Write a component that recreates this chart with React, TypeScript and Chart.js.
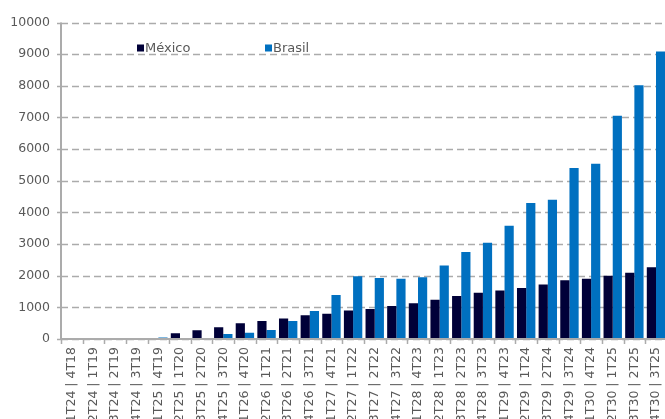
import React, { useEffect, useRef } from "react";
import { Chart, registerables } from "chart.js";

Chart.register(...registerables);

// Quarter pairs: México quarter | Brasil quarter
const categories = [
  "1T24 | 4T18", "2T24 | 1T19", "3T24 | 2T19", "4T24 | 3T19",
  "1T25 | 4T19", "2T25 | 1T20", "3T25 | 2T20", "4T25 | 3T20",
  "1T26 | 4T20", "2T26 | 1T21", "3T26 | 2T21", "4T26 | 3T21",
  "1T27 | 4T21", "2T27 | 1T22", "3T27 | 2T22", "4T27 | 3T22",
  "1T28 | 4T23", "2T28 | 1T23", "3T28 | 2T23", "4T28 | 3T23",
  "1T29 | 4T23", "2T29 | 1T24", "3T29 | 2T24", "4T29 | 3T24",
  "1T30 | 4T24", "2T30 | 1T25", "3T30 | 2T25", "4T30 | 3T25",
];

const mexico = [
  0, 0, 0, 0, 0, 180, 280, 370, 495, 570, 650, 750, 800, 900,
  950, 1040, 1130, 1240, 1360, 1460, 1530, 1610, 1720, 1860, 1900, 2000, 2090, 2270,
];

const brasil = [
  0, 0, 0, 0, 50, 0, 0, 160, 200, 285, 570, 885, 1390, 1980,
  1930, 1900, 1950, 2320, 2750, 3040, 3580, 4300, 4400, 5400, 5540, 7050, 8020, 9080,
];

const yMin = 0;
const yMax = 10000;
const yStep = 1000;

const seriesNames = ["México", "Brasil"];
const seriesColors = ["#000038", "#0070C0"];

const FONT = "'DejaVu Sans', sans-serif";
const TEXT = "#595959";
const GRID = "#ababab";

// Dashed value gridlines, axis lines and tick marks, placed from the chart's own scales
const gridLines = {
  id: "gridLines",
  beforeDatasetsDraw(chart: any) {
    const { ctx, chartArea: a, scales } = chart;
    const x = scales.x;
    const y = scales.y;
    ctx.save();
    ctx.strokeStyle = GRID;
    y.ticks.forEach((t: any) => {
      const py = Math.round(y.getPixelForValue(t.value)) + 0.5;
      ctx.lineWidth = 1.6;
      ctx.setLineDash([7, 4]);
      ctx.beginPath();
      ctx.moveTo(a.left, py);
      ctx.lineTo(a.right, py);
      ctx.stroke();
      ctx.setLineDash([]);
      ctx.lineWidth = 1.5;
      ctx.beginPath();
      ctx.moveTo(a.left - 4, py);
      ctx.lineTo(a.left, py);
      ctx.stroke();
    });
    ctx.lineWidth = 1.5;
    for (let i = 0; i <= categories.length; i++) {
      const px = Math.round(x.getPixelForValue(i - 0.5)) + 0.5;
      ctx.beginPath();
      ctx.moveTo(px, a.bottom);
      ctx.lineTo(px, a.bottom + 5);
      ctx.stroke();
    }
    ctx.restore();
  },
  afterDatasetsDraw(chart: any) {
    const { ctx, chartArea: a } = chart;
    ctx.save();
    ctx.strokeStyle = GRID;
    ctx.lineWidth = 2;
    ctx.beginPath();
    ctx.moveTo(a.left, a.top);
    ctx.lineTo(a.left, a.bottom);
    ctx.lineTo(a.right, a.bottom);
    ctx.stroke();
    ctx.restore();
  },
};

// Legend drawn inside the plot area, left of centre near the top
const insideLegend = {
  id: "insideLegend",
  afterDraw(chart: any) {
    const { ctx, chartArea } = chart;
    const y = chartArea.top + 26;
    const starts = [chartArea.left + 76, chartArea.left + 204];
    ctx.save();
    ctx.font = `13px ${FONT}`;
    ctx.textBaseline = "middle";
    ctx.textAlign = "left";
    seriesNames.forEach((name, i) => {
      const x = starts[i];
      ctx.fillStyle = seriesColors[i];
      ctx.fillRect(x, y - 4, 7, 7);
      ctx.fillStyle = TEXT;
      ctx.fillText(name, x + 8, y);
    });
    ctx.restore();
  },
};

export default function App() {
  const canvasRef = useRef<HTMLCanvasElement | null>(null);

  useEffect(() => {
    if (!canvasRef.current) return;
    const chart = new Chart(canvasRef.current, {
      type: "bar",
      data: {
        labels: categories,
        datasets: [
          {
            label: seriesNames[0],
            data: mexico,
            backgroundColor: seriesColors[0],
            categoryPercentage: 0.85,
            barPercentage: 1,
          },
          {
            label: seriesNames[1],
            data: brasil,
            backgroundColor: seriesColors[1],
            categoryPercentage: 0.85,
            barPercentage: 1,
          },
        ],
      },
      options: {
        responsive: false,
        animation: false,
        layout: { padding: { top: 13 } },
        plugins: {
          legend: { display: false },
          tooltip: { enabled: false },
        },
        scales: {
          x: {
            grid: {
              display: false,
              drawTicks: true,
              offset: true,
              tickLength: 5,
            },
            border: { display: false },
            ticks: {
              autoSkip: false,
              maxRotation: 90,
              minRotation: 90,
              padding: 3,
              color: TEXT,
              font: { family: FONT, size: 12.5 },
            },
            afterFit(scale: any) {
              scale.height = 100;
            },
          },
          y: {
            min: yMin,
            max: yMax,
            grid: {
              display: false,
              drawTicks: true,
              tickLength: 4,
            },
            border: { display: false },
            ticks: {
              stepSize: yStep,
              padding: 7,
              color: TEXT,
              font: { family: FONT, size: 12.5 },
              callback: (v: any) => String(v),
            },
            afterFit(scale: any) {
              scale.width = 53;
            },
          },
        },
      },
      plugins: [gridLines, insideLegend],
    });
    return () => chart.destroy();
  }, []);

  return (
    <div
      style={{
        position: "fixed",
        left: 8,
        top: 8,
        width: 657,
        height: 411,
        overflow: "hidden",
      }}
    >
      <canvas ref={canvasRef} width={666} height={431} style={{ display: "block" }} />
    </div>
  );
}
